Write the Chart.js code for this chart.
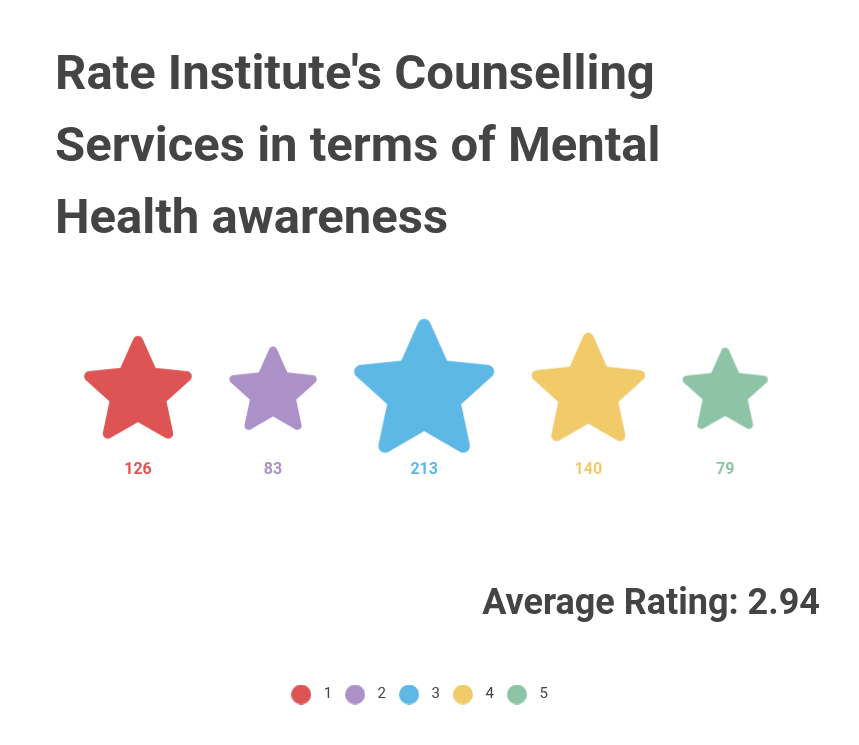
<!DOCTYPE html>
<html>
<head>
<meta charset="utf-8">
<script src="https://cdn.jsdelivr.net/npm/chart.js@4/dist/chart.umd.min.js"></script>
<style>
  html, body { margin: 0; padding: 0; background: #ffffff; }
  #wrap { width: 859px; height: 745px; position: relative; }
</style>
</head>
<body>
<div id="wrap"><canvas id="c"></canvas></div>
<script>
// ---- data ----
const ratings = ['1', '2', '3', '4', '5'];
const ratingValues = [1, 2, 3, 4, 5];
const counts = [126, 83, 213, 140, 79];
const colors = ['#DE5454', '#AC91C8', '#5EB8E6', '#F1CB6A', '#8EC4A6'];
const titleLines = [
  "Rate Institute's Counselling",
  "Services in terms of Mental",
  "Health awareness"
];
const averageLabel = 'Average Rating: ';

// ---- derived ----
const total = counts.reduce((a, b) => a + b, 0);
const average = counts.reduce((s, c, i) => s + c * ratingValues[i], 0) / total;

// star geometry derived from counts (area proportional to value)
const SHARP_K = 5.68;            // sharp outer radius per sqrt(count)
const INNER = 0.47;              // inner radius ratio
const ROUND = 0.08;              // tip rounding ratio
const VISIBLE = 0.8835;          // visible outer radius / sharp radius
const GAP = 38;                  // gap between stars (px units)
const outerR = counts.map(v => SHARP_K * Math.sqrt(v));
const visW = outerR.map(R => 2 * R * VISIBLE * Math.sin(72 * Math.PI / 180));
const rowWidth = visW.reduce((a, b) => a + b, 0) + GAP * (counts.length - 1);
const xPos = [];
{ let acc = -rowWidth / 2; visW.forEach(w => { xPos.push(acc + w / 2); acc += w + GAP; }); }

function makeStar(R, color) {
  const S = Math.ceil(2 * R) + 4;
  const cv = document.createElement('canvas');
  cv.width = S; cv.height = S;
  const g = cv.getContext('2d');
  const cx = S / 2, cy = S / 2, r = R * INNER, rho = R * ROUND;
  const pts = [];
  for (let i = 0; i < 10; i++) {
    const a = (-90 + i * 36) * Math.PI / 180;
    const rad = i % 2 === 0 ? R : r;
    pts.push([cx + rad * Math.cos(a), cy + rad * Math.sin(a)]);
  }
  g.beginPath();
  const last = pts[9], first = pts[0];
  g.moveTo((last[0] + first[0]) / 2, (last[1] + first[1]) / 2);
  for (let i = 0; i < 10; i++) {
    const p = pts[i], n = pts[(i + 1) % 10];
    if (i % 2 === 0) g.arcTo(p[0], p[1], n[0], n[1], rho);
    else g.lineTo(p[0], p[1]);
  }
  g.closePath();
  g.fillStyle = color;
  g.fill();
  return cv;
}

function makeDot(color) {
  const cv = document.createElement('canvas');
  cv.width = 20; cv.height = 20;
  const g = cv.getContext('2d');
  g.beginPath(); g.arc(10, 10, 10, 0, Math.PI * 2);
  g.fillStyle = color; g.fill();
  return cv;
}

const datasets = ratings.map((lab, i) => ({
  label: lab,
  data: [{ x: xPos[i], y: 0 }],
  backgroundColor: colors[i],
  borderColor: colors[i],
  pointStyle: makeStar(outerR[i], colors[i]),
  pointRadius: outerR[i],
  pointHoverRadius: outerR[i],
  clip: false
}));

const valueLabels = {
  id: 'valueLabels',
  afterDatasetsDraw(chart) {
    const ctx = chart.ctx;
    ctx.save();
    ctx.font = 'bold 16px Roboto';
    ctx.textAlign = 'center';
    ctx.textBaseline = 'middle';
    chart.data.datasets.forEach((ds, i) => {
      const meta = chart.getDatasetMeta(i);
      if (!chart.isDatasetVisible(i)) return;
      const el = meta.data[0];
      ctx.fillStyle = colors[i];
      ctx.fillText(String(counts[i]), el.x, el.y + 78);
    });
    ctx.restore();
  }
};

Chart.defaults.font.family = 'Roboto';
Chart.defaults.color = '#444';

new Chart(document.getElementById('c'), {
  type: 'scatter',
  data: { datasets },
  plugins: [valueLabels],
  options: {
    responsive: true,
    maintainAspectRatio: false,
    animation: false,
    devicePixelRatio: 1,
    layout: { autoPadding: false, padding: { left: 55, right: 39, top: 0, bottom: 33 } },
    scales: {
      x: { type: 'linear', display: false, min: -371, max: 353 },
      y: {
        type: 'linear', position: 'right', display: true, min: -1, max: 0.653,
        ticks: { display: false }, grid: { display: false }, border: { display: false },
        afterFit(s) { s.width = 41; }
      }
    },
    plugins: {
      tooltip: { enabled: false },
      title: {
        display: true,
        text: titleLines,
        align: 'start',
        color: '#444',
        font: { size: 49, weight: 'bold', lineHeight: '72px' },
        padding: { top: 41, bottom: 10 }
      },
      subtitle: {
        display: true,
        position: 'bottom',
        align: 'end',
        weight: 500,
        text: averageLabel + average.toFixed(2),
        color: '#444',
        font: { size: 36, weight: 'bold', lineHeight: 1.2 },
        padding: { top: 0, bottom: 52 }
      },
      legend: {
        position: 'bottom',
        fullSize: false,
        labels: {
          usePointStyle: true,
          pointStyleWidth: 30,
          boxHeight: 15,
          padding: 8,
          color: '#444',
          font: { size: 15 },
          generateLabels(chart) {
            const items = Chart.defaults.plugins.legend.labels.generateLabels(chart);
            items.forEach(it => { it.pointStyle = makeDot(colors[it.datasetIndex]); });
            return items;
          }
        }
      }
    }
  }
});
</script>
</body>
</html>
